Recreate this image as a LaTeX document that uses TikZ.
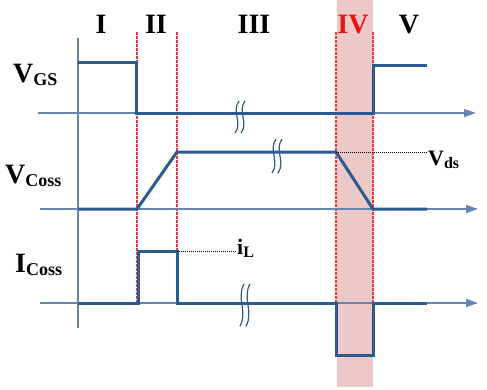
\documentclass[tikz,border=0pt]{standalone}
\usepackage{fontspec}
\setmainfont{Liberation Serif}
\usetikzlibrary{arrows.meta,positioning}
\definecolor{wave}{HTML}{2B5A8E}
\definecolor{axisblue}{HTML}{6486B0}
\definecolor{guidered}{HTML}{E03C3C}
\definecolor{ivfill}{HTML}{EDC8C8}
\definecolor{numred}{HTML}{F01010}
\newcommand{\sig}[3]{#1{\fontsize{#3}{#3}\selectfont\raisebox{-3pt}{#2}}}
\tikzset{
  axisline/.style={draw=axisblue,line width=1.3pt,-{Triangle[length=12pt,width=8pt]}},
  yaxis/.style={draw=axisblue,line width=1.3pt},
  wave/.style={draw=wave,line width=3pt},
  guideline/.style={draw=guidered,line width=1.1pt,dash pattern=on 2.5pt off 1.5pt},
  leader/.style={draw=black,line width=0.8pt,dash pattern=on 1pt off 1pt},
  breakmark/.style={draw=wave,line width=1.2pt},
  numeral/.style={font=\fontsize{28}{28}\selectfont\bfseries,anchor=base,inner sep=0pt},
  siglabel/.style={font=\fontsize{28}{28}\selectfont\bfseries,anchor=base west,inner sep=0pt},
  levellabel/.style={font=\fontsize{22}{22}\selectfont\bfseries,anchor=base west,inner sep=0pt}
}

\begin{document}
\begin{tikzpicture}[x=1pt,y=-1pt]
    \useasboundingbox (0,0) rectangle (487,389);
    % interval IV
    \fill[ivfill] (337,0) rectangle (373,387);
    \foreach \gx in {137,177,336,373}
      \draw[guideline] (\gx,32) -- (\gx,303);
    % axes
    \coordinate (origin) at (78,38);
    \coordinate (yend) at (78,328);
    \draw[yaxis] (origin) -- (yend);
    \draw[axisline] (38,113) -- (476,113);
    \draw[axisline] (40,209) -- (478,209);
    \draw[axisline] (40,303) -- (478,303);
    % waveforms
    \draw[wave] (78,62) -- (136,62) -- (136,113) -- (373,113) -- (373,65) -- (427,65);
    \coordinate (vds) at (336,152);
    \draw[wave] (78,209) -- (137,209) -- (177,152) -- (vds) -- (373,209) -- (427,209);
    \coordinate (il) at (177,251);
    \draw[wave] (78,303) -- (138,303) -- (138,251) -- (il) -- (177,303) -- (336,303)
      -- (336,355) -- (373,355) -- (373,303) -- (427,303);
    % breaks
    \foreach \bx/\by/\bh in {240/117/16,277/156/17,245/305/21}
      \foreach \off in {-3,3}
        \draw[breakmark] (\bx+\off+2,\by-\bh) .. controls (\bx+\off-6,\by-\bh/3) and (\bx+\off+6,\by+\bh/3) .. (\bx+\off-2,\by+\bh);
    % labels
    \node[numeral] (one) at (101,33) {I};
    \node[numeral] (two) at (156,33) {II};
    \node[numeral] (three) at (254,33) {III};
    \node[numeral,text=numred] (four) at (353,33) {IV};
    \node[numeral] (five) at (409,33) {V};
    \node[siglabel] (vgs) at (13,82) {\sig{V}{GS}{18}};
    \node[siglabel] (vcoss) at (5,183) {\sig{V}{Coss}{18}};
    \node[siglabel] (icoss) at (15,272) {\sig{I}{Coss}{18}};
    \node[levellabel] (vdslabel) at (428,165) {\sig{V}{ds}{16}};
    \node[levellabel] (illabel) at (237,254) {\sig{i}{L}{16}};
    \draw[leader] (vds) -- (vds -| vdslabel.west);
    \draw[leader] (il) -- (il -| illabel.west);
  \end{tikzpicture}
\end{document}
